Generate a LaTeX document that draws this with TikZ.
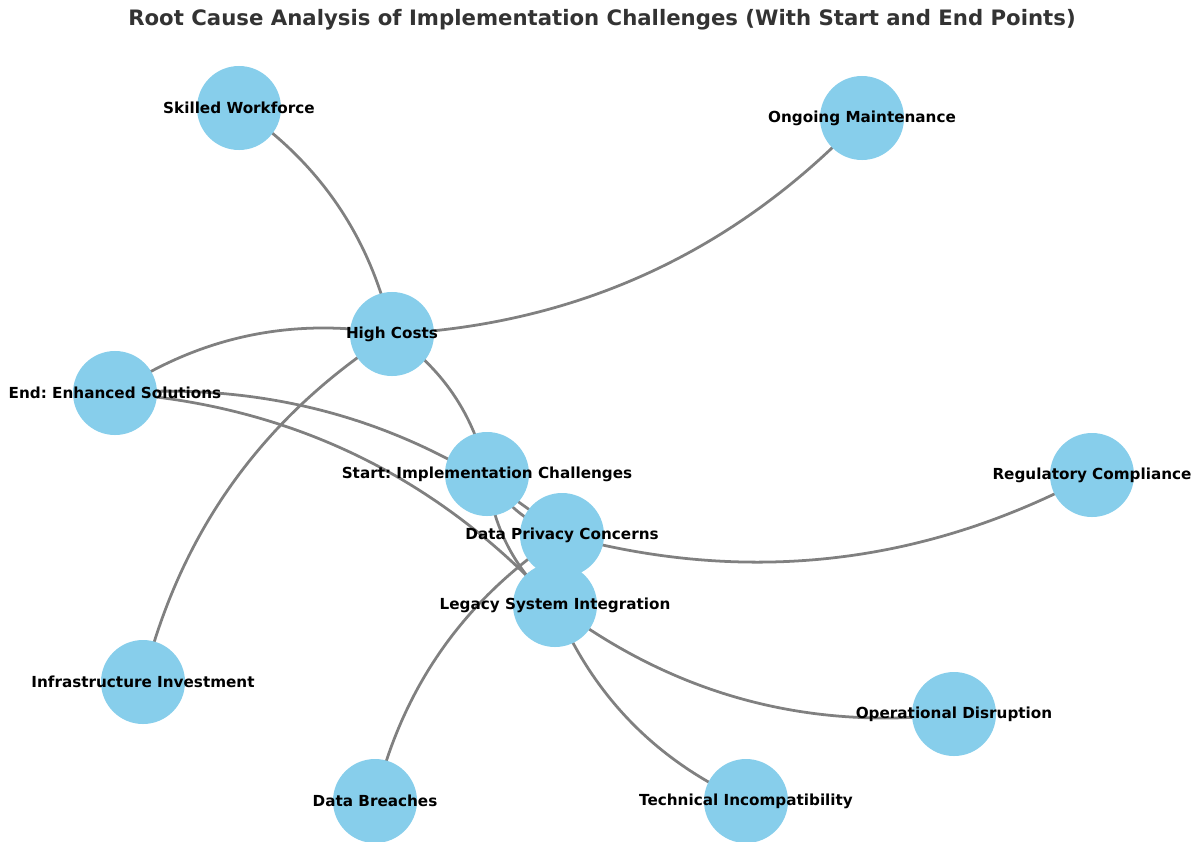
\documentclass[tikz,border=0pt]{standalone}
\usepackage{fontspec}
\setmainfont{DejaVu Sans}
\frenchspacing
\usetikzlibrary{backgrounds}
\definecolor{sky}{HTML}{87CEEB}
\definecolor{edgegray}{HTML}{808080}
\definecolor{titlegray}{HTML}{333333}
\begin{document}
\begin{tikzpicture}[x=0.254mm, y=-0.254mm,
  vtx/.style={circle, fill=sky, draw=none, minimum size=21.34mm, inner sep=0pt,
    label={[lbl]center:#1}},
  lbl/.style={font=\bfseries\fontsize{11}{13}\selectfont, text=black, inner sep=0pt},
  link/.style={draw=edgegray, line width=2pt, bend right=21.8, looseness=0.917},
  ttl/.style={font=\bfseries\fontsize{15.35}{18}\selectfont, text=titlegray}]
\useasboundingbox (0,0) rectangle (1198,841);
\node[ttl] (title) at (602,20) {Root Cause Analysis of Implementation Challenges (With Start and End Points)};
\node[vtx={Skilled Workforce}] (sw) at (239,108) {};
\node[vtx={Ongoing Maintenance}] (om) at (862,118) {};
\node[vtx={High Costs}] (hc) at (392,334) {};
\node[vtx={End: Enhanced Solutions}] (end) at (115,393) {};
\node[vtx={Start: Implementation Challenges}] (start) at (487,474) {};
\node[vtx={Regulatory Compliance}] (rc) at (1092,475) {};
\node[vtx={Data Privacy Concerns}] (dp) at (562,535) {};
\node[vtx={Legacy System Integration}] (lsi) at (555,605) {};
\node[vtx={Infrastructure Investment}] (ii) at (143,682) {};
\node[vtx={Operational Disruption}] (od) at (954,714) {};
\node[vtx={Data Breaches}] (db) at (375,801) {};
\node[vtx={Technical Incompatibility}] (ti) at (746,801) {};
\begin{scope}[on background layer]
\draw[link] (start.center) to (hc.center);
\draw[link] (start.center) to (dp.center);
\draw[link] (start.center) to (lsi.center);
\draw[link] (hc.center) to (sw.center);
\draw[link] (hc.center) to (om.center);
\draw[link] (hc.center) to (ii.center);
\draw[link] (hc.center) to (end.center);
\draw[link] (dp.center) to (db.center);
\draw[link] (dp.center) to (rc.center);
\draw[link] (dp.center) to (end.center);
\draw[link] (lsi.center) to (ti.center);
\draw[link] (lsi.center) to (od.center);
\draw[link] (lsi.center) to (end.center);
\end{scope}
\end{tikzpicture}
\end{document}
